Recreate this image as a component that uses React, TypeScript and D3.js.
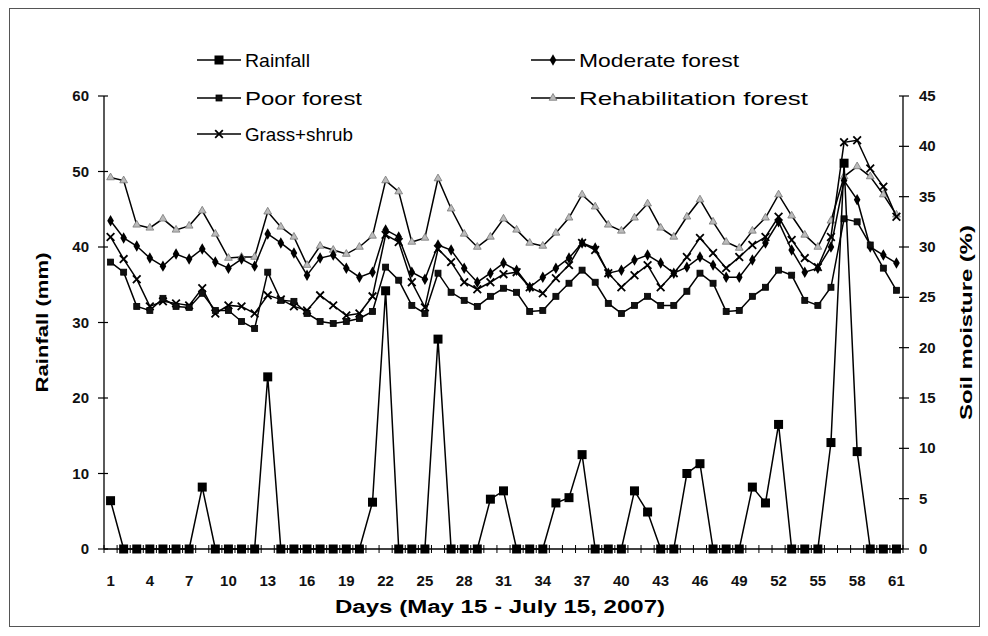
import React from "react";
import * as d3 from "d3";

const days: number[] = Array.from({ length: 61 }, (_, i) => i + 1);
const xTickLabels: number[] = [1, 4, 7, 10, 13, 16, 19, 22, 25, 28, 31, 34, 37, 40, 43, 46, 49, 52, 55, 58, 61];
const leftTicks: number[] = [0, 10, 20, 30, 40, 50, 60];
const rightTicks: number[] = [0, 5, 10, 15, 20, 25, 30, 35, 40, 45];

const rainfall: number[] = [
  6.4, 0, 0, 0, 0, 0, 0, 8.2, 0, 0, 0, 0, 22.8, 0, 0, 0, 0, 0, 0, 0,
  6.2, 34.2, 0, 0, 0, 27.8, 0, 0, 0, 6.6, 7.7, 0, 0, 0, 6.1, 6.8, 12.5, 0, 0, 0,
  7.7, 4.9, 0, 0, 10.0, 11.3, 0, 0, 0, 8.2, 6.1, 16.5, 0, 0, 0, 14.1, 51.1, 12.9, 0, 0, 0,
];
const moderateForest: number[] = [
  32.6, 30.9, 30.1, 28.9, 28.1, 29.3, 28.8, 29.8, 28.5, 27.9, 28.8, 28.1, 31.3, 30.4, 29.4, 27.2, 28.9, 29.2, 27.9, 27.0,
  27.5, 31.7, 31.0, 27.5, 26.8, 30.2, 29.7, 27.9, 26.5, 27.4, 28.4, 27.7, 26.0, 27.0, 27.9, 28.9, 30.4, 29.9, 27.4, 27.7,
  28.7, 29.2, 28.4, 27.4, 28.0, 29.0, 28.2, 27.0, 27.0, 28.7, 30.4, 32.5, 29.7, 27.5, 27.9, 30.0, 36.6, 34.7, 30.0, 29.2, 28.4,
];
const poorForest: number[] = [
  28.5, 27.5, 24.1, 23.7, 24.9, 24.1, 24.0, 25.4, 23.7, 23.7, 22.6, 21.9, 27.5, 24.7, 24.6, 23.4, 22.6, 22.4, 22.6, 22.9,
  23.6, 28.0, 26.7, 24.2, 23.4, 27.4, 25.5, 24.7, 24.1, 25.1, 25.9, 25.5, 23.6, 23.7, 25.1, 26.4, 27.7, 26.5, 24.4, 23.4,
  24.2, 25.1, 24.2, 24.2, 25.6, 27.4, 26.4, 23.6, 23.7, 25.1, 26.0, 27.7, 27.2, 24.7, 24.2, 26.0, 32.8, 32.5, 30.2, 27.9, 25.7,
];
const rehabilitationForest: number[] = [
  36.9, 36.6, 32.2, 31.9, 32.8, 31.7, 32.1, 33.6, 31.3, 28.9, 29.0, 29.0, 33.5, 32.0, 31.0, 28.2, 30.1, 29.7, 29.3, 30.0,
  31.1, 36.6, 35.5, 30.5, 30.9, 36.8, 33.8, 31.3, 30.0, 31.0, 32.8, 31.7, 30.4, 30.1, 31.4, 32.9, 35.2, 34.0, 32.2, 31.6,
  32.9, 34.3, 31.9, 31.0, 33.0, 34.7, 32.5, 30.5, 29.9, 31.6, 32.9, 35.2, 33.1, 31.2, 30.0, 32.6, 37.0, 38.0, 37.0, 35.2, 33.2,
];
const grassShrub: number[] = [
  31.0, 28.8, 26.8, 24.1, 24.6, 24.4, 24.2, 25.9, 23.4, 24.2, 24.1, 23.4, 25.2, 24.8, 24.1, 23.7, 25.2, 24.2, 23.2, 23.4,
  25.1, 31.2, 30.5, 26.5, 24.0, 29.8, 28.5, 26.5, 25.8, 26.5, 27.3, 27.5, 26.0, 25.4, 26.9, 28.2, 30.4, 29.7, 27.4, 26.0,
  27.2, 28.2, 26.0, 27.4, 29.0, 30.9, 29.4, 27.9, 29.0, 30.2, 31.0, 33.0, 30.7, 28.9, 28.0, 31.0, 40.4, 40.6, 37.8, 36.0, 33.0,
];

const W = 988;
const H = 636;
const left = 104;
const right = 903;
const top = 96;
const bottom = 549;
const FONT = "'Liberation Sans', Arial, sans-serif";

type MarkerKind = "bigSquare" | "diamond" | "square" | "triangle" | "times";

function Marker({ kind, x, y }: { kind: MarkerKind; x: number; y: number }) {
  if (kind === "bigSquare") {
    return <rect x={x - 4.5} y={y - 4.5} width={9} height={9} fill="#000" />;
  }
  if (kind === "square") {
    return <rect x={x - 3} y={y - 3} width={6} height={6} fill="#111" stroke="#000" strokeWidth={0.8} />;
  }
  if (kind === "diamond") {
    const p = d3.symbol().type(d3.symbolDiamond).size(38)();
    return <path d={p || ""} transform={`translate(${x},${y})`} fill="#000" />;
  }
  if (kind === "triangle") {
    const p = d3.symbol().type(d3.symbolTriangle).size(26)();
    return <path d={p || ""} transform={`translate(${x},${y})`} fill="#bbb" stroke="#777" strokeWidth={0.8} />;
  }
  const p = d3.symbol().type(d3.symbolTimes).size(40)();
  return <path d={p || ""} transform={`translate(${x},${y})`} fill="none" stroke="#000" strokeWidth={1.8} />;
}

export default function App() {
  const x = d3
    .scaleBand<number>()
    .domain(days)
    .range([left, right])
    .paddingInner(0)
    .paddingOuter(0);
  const cx = (d: number) => (x(d) as number) + x.bandwidth() / 2;
  const yL = d3.scaleLinear().domain([0, 60]).range([bottom, top]);
  const yR = d3.scaleLinear().domain([0, 45]).range([bottom, top]);

  const lineL = d3
    .line<number>()
    .x((_, i) => cx(days[i]))
    .y((v) => yL(v));
  const lineR = d3
    .line<number>()
    .x((_, i) => cx(days[i]))
    .y((v) => yR(v));

  const moistSeries: { name: string; data: number[]; kind: MarkerKind }[] = [
    { name: "Rehabilitation forest", data: rehabilitationForest, kind: "triangle" },
    { name: "Moderate forest", data: moderateForest, kind: "diamond" },
    { name: "Grass+shrub", data: grassShrub, kind: "times" },
    { name: "Poor forest", data: poorForest, kind: "square" },
  ];

  const legend: { name: string; kind: MarkerKind; lx: number; ly: number; tl: number }[] = [
    { name: "Rainfall", kind: "bigSquare", lx: 197, ly: 60, tl: 65 },
    { name: "Moderate forest", kind: "diamond", lx: 531, ly: 60, tl: 160 },
    { name: "Poor forest", kind: "square", lx: 197, ly: 98, tl: 117 },
    { name: "Rehabilitation forest", kind: "triangle", lx: 531, ly: 98, tl: 229 },
    { name: "Grass+shrub", kind: "times", lx: 197, ly: 134, tl: 108 },
  ];

  const boundaries = [...days.map((d) => x(d) as number), right];

  return (
    <svg
      width={W}
      height={H}
      style={{ position: "absolute", left: 0, top: 0, background: "#fff" }}
      fontFamily={FONT}
    >
      <rect x={0} y={0} width={W} height={H} fill="#fff" />
      <rect x={9.5} y={8.5} width={970} height={618} fill="none" stroke="#555" strokeWidth={1} />

      {/* Legend */}
      {legend.map((l) => (
        <g key={l.name}>
          <line x1={l.lx} x2={l.lx + 44} y1={l.ly} y2={l.ly} stroke="#000" strokeWidth={1.5} />
          <Marker kind={l.kind} x={l.lx + 22} y={l.ly} />
          <text
            x={l.lx + 48}
            y={l.ly + 7}
            fontSize={19}
            fill="#000"
            textLength={l.tl}
            lengthAdjust="spacingAndGlyphs"
          >
            {l.name}
          </text>
        </g>
      ))}

      {/* Left axis */}
      <line x1={left} x2={left} y1={top} y2={bottom} stroke="#000" strokeWidth={1.3} />
      {leftTicks.map((t) => (
        <g key={"l" + t}>
          <line x1={left - 6} x2={left + 4} y1={yL(t)} y2={yL(t)} stroke="#000" strokeWidth={1.2} />
          <text x={89} y={yL(t) + 5} textAnchor="end" fontSize={15} fontWeight="bold" fill="#111">
            {t}
          </text>
        </g>
      ))}
      <text
        transform={`translate(48,${(top + bottom) / 2}) rotate(-90)`}
        textAnchor="middle"
        fontSize={17}
        fontWeight="bold"
        fill="#000"
        textLength={140}
        lengthAdjust="spacingAndGlyphs"
      >
        Rainfall (mm)
      </text>

      {/* Right axis */}
      <line x1={right} x2={right} y1={top} y2={bottom} stroke="#000" strokeWidth={1.3} />
      {rightTicks.map((t) => (
        <g key={"r" + t}>
          <line x1={right - 4} x2={right + 6} y1={yR(t)} y2={yR(t)} stroke="#000" strokeWidth={1.2} />
          <text x={919} y={yR(t) + 5} textAnchor="start" fontSize={15} fontWeight="bold" fill="#111">
            {t}
          </text>
        </g>
      ))}
      <text
        transform={`translate(972,${(top + bottom) / 2}) rotate(-90)`}
        textAnchor="middle"
        fontSize={17}
        fontWeight="bold"
        fill="#000"
        textLength={195}
        lengthAdjust="spacingAndGlyphs"
      >
        Soil moisture (%)
      </text>

      {/* X axis */}
      <line x1={left} x2={right} y1={bottom} y2={bottom} stroke="#000" strokeWidth={1.3} />
      {boundaries.map((b, i) => (
        <line key={"b" + i} x1={b} x2={b} y1={bottom - 4} y2={bottom + 4} stroke="#000" strokeWidth={1} />
      ))}
      {xTickLabels.map((d) => (
        <text key={"x" + d} x={cx(d)} y={586} textAnchor="middle" fontSize={15} fontWeight="bold" fill="#111">
          {d}
        </text>
      ))}
      <text
        x={500}
        y={613}
        textAnchor="middle"
        fontSize={18}
        fontWeight="bold"
        fill="#000"
        textLength={330}
        lengthAdjust="spacingAndGlyphs"
      >
        Days (May 15 - July 15, 2007)
      </text>

      {/* Soil moisture series */}
      {moistSeries.map((s) => (
        <g key={s.name}>
          <path d={lineR(s.data) || ""} fill="none" stroke="#000" strokeWidth={1.5} />
          {s.data.map((v, i) => (
            <Marker key={i} kind={s.kind} x={cx(days[i])} y={yR(v)} />
          ))}
        </g>
      ))}

      {/* Rainfall */}
      <path d={lineL(rainfall) || ""} fill="none" stroke="#000" strokeWidth={1.5} />
      {rainfall.map((v, i) => (
        <Marker key={"rf" + i} kind="bigSquare" x={cx(days[i])} y={yL(v)} />
      ))}
    </svg>
  );
}
